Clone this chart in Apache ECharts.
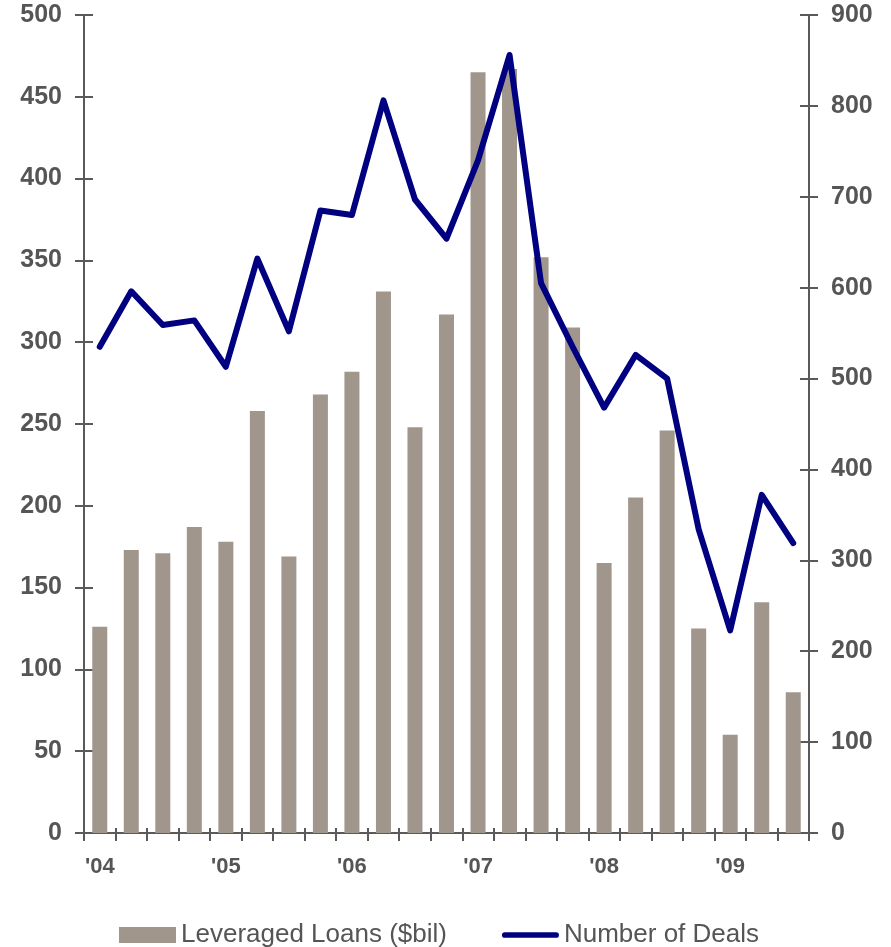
<!DOCTYPE html>
<html>
<head>
<meta charset="utf-8">
<script src="https://cdn.jsdelivr.net/npm/echarts@6/dist/echarts.min.js"></script>
<style>
  html, body { margin: 0; padding: 0; background: #ffffff; }
  #chart { width: 891px; height: 947px; }
</style>
</head>
<body>
<div id="chart"></div>
<script>
// Quarters 2004 Q1 .. 2009 Q3
const quarters = [
  "Q1 2004","Q2 2004","Q3 2004","Q4 2004",
  "Q1 2005","Q2 2005","Q3 2005","Q4 2005",
  "Q1 2006","Q2 2006","Q3 2006","Q4 2006",
  "Q1 2007","Q2 2007","Q3 2007","Q4 2007",
  "Q1 2008","Q2 2008","Q3 2008","Q4 2008",
  "Q1 2009","Q2 2009","Q3 2009"
];
const yearLabels = ["'04","'05","'06","'07","'08","'09"];
const leveragedLoans = [126, 173, 171, 187, 178, 258, 169, 268, 282, 331, 248, 317, 465, 467, 352, 309, 165, 205, 246, 125, 60, 141, 86];
const numberOfDeals = [535, 596, 559, 564, 513, 632, 552, 685, 680, 806, 697, 654, 740, 856, 605, 535, 468, 526, 500, 334, 223, 372, 319];
const leftTicks = { min: 0, max: 500, interval: 50 };
const rightTicks = { min: 0, max: 900, interval: 100 };

const axisColor = '#5a5a5a';
const textColor = '#555555';
const fontFamily = '"Liberation Sans", Arial, sans-serif';

const chart = echarts.init(document.getElementById('chart'), null, { renderer: 'canvas' });

const option = {
  backgroundColor: '#ffffff',
  animation: false,
  textStyle: { fontFamily: fontFamily },
  grid: { left: 84, right: 82, top: 15, bottom: 114, containLabel: false },
  legend: {
    left: 114,
    top: 917,
    itemWidth: 57,
    itemHeight: 16,
    itemGap: 55,
    textStyle: { fontSize: 26, color: textColor, fontFamily: fontFamily },
    data: [
      { name: 'Leveraged Loans ($bil)', icon: 'rect', itemStyle: { color: '#a0968c' } },
      { name: 'Number of Deals',
        icon: 'path://M3,0 L57,0 A3,3 0 0 1 57,6 L3,6 A3,3 0 0 1 3,0 Z',
        itemStyle: { color: '#000080' } }
    ]
  },
  xAxis: [
    {
      type: 'category',
      data: quarters,
      boundaryGap: true,
      axisLine: { show: true, lineStyle: { color: axisColor, width: 2 } },
      axisTick: { show: true, interval: 0, alignWithLabel: false, length: 8, lineStyle: { color: axisColor, width: 2 } },
      axisLabel: {
        interval: 3,
        margin: 23,
        fontSize: 22,
        fontWeight: 'bold',
        color: textColor,
        fontFamily: fontFamily,
        formatter: function (v, i) { return yearLabels[Math.floor(i / 4)] || ''; }
      },
      splitLine: { show: false }
    },
    {
      type: 'category',
      data: quarters,
      position: 'bottom',
      boundaryGap: true,
      axisLine: { show: false },
      axisTick: { show: true, inside: true, interval: 0, length: 5, lineStyle: { color: axisColor, width: 2 } },
      axisLabel: { show: false },
      splitLine: { show: false }
    }
  ],
  yAxis: [
    {
      type: 'value',
      position: 'left',
      min: leftTicks.min, max: leftTicks.max, interval: leftTicks.interval,
      axisLine: { show: true, lineStyle: { color: axisColor, width: 2 } },
      axisTick: { show: true, length: 9, lineStyle: { color: axisColor, width: 2 } },
      axisLabel: { margin: 22, fontSize: 25, fontWeight: 'bold', color: textColor, fontFamily: fontFamily },
      splitLine: { show: false }
    },
    {
      type: 'value',
      position: 'right',
      min: rightTicks.min, max: rightTicks.max, interval: rightTicks.interval,
      axisLine: { show: true, lineStyle: { color: axisColor, width: 2 } },
      axisTick: { show: true, length: 9, lineStyle: { color: axisColor, width: 2 } },
      axisLabel: { margin: 22, fontSize: 25, fontWeight: 'bold', color: textColor, fontFamily: fontFamily },
      splitLine: { show: false }
    },
    {
      type: 'value',
      position: 'left',
      min: leftTicks.min, max: leftTicks.max, interval: leftTicks.interval,
      axisLine: { show: false },
      axisTick: { show: true, inside: true, length: 9, lineStyle: { color: axisColor, width: 2 } },
      axisLabel: { show: false },
      splitLine: { show: false }
    },
    {
      type: 'value',
      position: 'right',
      min: rightTicks.min, max: rightTicks.max, interval: rightTicks.interval,
      axisLine: { show: false },
      axisTick: { show: true, inside: true, length: 9, lineStyle: { color: axisColor, width: 2 } },
      axisLabel: { show: false },
      splitLine: { show: false }
    }
  ],
  series: [
    {
      name: 'Leveraged Loans ($bil)',
      type: 'bar',
      xAxisIndex: 0,
      yAxisIndex: 0,
      data: leveragedLoans,
      barWidth: 15,
      itemStyle: { color: '#a0968c' },
      z: 2
    },
    {
      name: 'Number of Deals',
      type: 'line',
      xAxisIndex: 0,
      yAxisIndex: 1,
      data: numberOfDeals,
      symbol: 'none',
      showSymbol: false,
      lineStyle: { color: '#000080', width: 6, cap: 'round', join: 'round' },
      itemStyle: { color: '#000080' },
      z: 3
    }
  ]
};

chart.setOption(option);
</script>
</body>
</html>
